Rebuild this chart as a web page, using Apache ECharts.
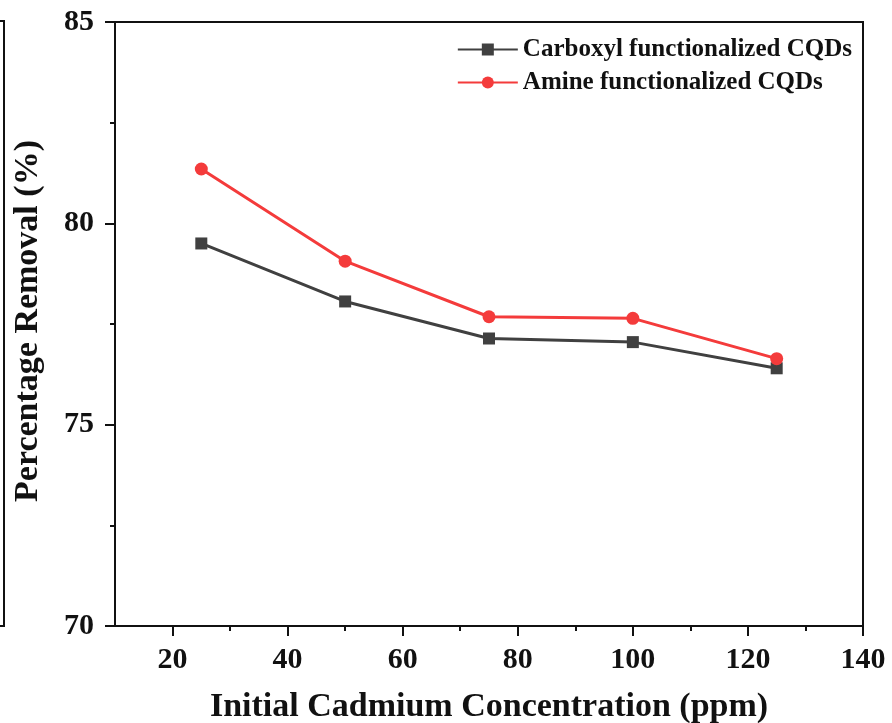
<!DOCTYPE html>
<html>
<head>
<meta charset="utf-8">
<script src="https://cdn.jsdelivr.net/npm/echarts@6/dist/echarts.min.js"></script>
<style>
  html, body { margin: 0; padding: 0; background: #fff; }
  #chart { width: 892px; height: 723px; }
</style>
</head>
<body>
<div id="chart"></div>
<script>
// concentrations (ppm)
var concentration = [25, 50, 75, 100, 125];
// removal (%)
var carboxyl = [79.5, 78.06, 77.14, 77.05, 76.4];
var amine = [81.35, 79.06, 77.68, 77.64, 76.64];
// x ticks: long ones with labels, short ones between
var xMajorTicks = [20, 40, 60, 80, 100, 120, 140];
var xMinorTicks = [30, 50, 70, 90, 110, 130];

var serif = '"Liberation Serif", "Times New Roman", serif';
var chart = echarts.init(document.getElementById('chart'));

function pairs(ys) {
    return concentration.map(function (x, i) { return [x, ys[i]]; });
}

chart.setOption({
    animation: false,
    grid: {
        left: 115, right: 29, top: 22, bottom: 97,
        outerBoundsMode: 'none',
        show: true, borderColor: '#111', borderWidth: 2, backgroundColor: 'transparent'
    },
    legend: {
        right: 35, top: 32,
        orient: 'vertical',
        itemWidth: 60, itemHeight: 15, itemGap: 8,
        textStyle: { fontFamily: serif, fontWeight: 'bold', fontSize: 25, color: '#111' },
        data: ['Carboxyl functionalized CQDs', 'Amine functionalized CQDs']
    },
    xAxis: [{
        type: 'value', min: 10, max: 140,
        name: 'Initial Cadmium Concentration (ppm)',
        nameLocation: 'middle', nameGap: 64,
        nameTextStyle: { fontFamily: serif, fontWeight: 'bold', fontSize: 34, color: '#111' },
        splitLine: { show: false },
        axisLine: { lineStyle: { color: '#111', width: 2 } },
        axisTick: { customValues: xMajorTicks, length: 10, lineStyle: { width: 2, color: '#111' } },
        axisLabel: { customValues: xMajorTicks, margin: 19, fontFamily: serif, fontWeight: 'bold', fontSize: 30, color: '#111' }
    }, {
        type: 'value', min: 10, max: 140, position: 'bottom',
        splitLine: { show: false },
        axisLine: { show: false },
        axisTick: { customValues: xMinorTicks, length: 5, lineStyle: { width: 2, color: '#111' } },
        axisLabel: { show: false }
    }],
    yAxis: {
        type: 'value', min: 70, max: 85, interval: 5,
        name: 'Percentage Removal (%)',
        nameLocation: 'middle', nameGap: 70,
        nameTextStyle: { fontFamily: serif, fontWeight: 'bold', fontSize: 34, color: '#111', padding: [0, 0, 0, 6] },
        splitLine: { show: false },
        axisLine: { lineStyle: { color: '#111', width: 2 } },
        axisTick: { length: 10, lineStyle: { width: 2, color: '#111' } },
        minorTick: { show: true, splitNumber: 2, length: 5, lineStyle: { width: 2, color: '#111' } },
        axisLabel: { margin: 21, fontFamily: serif, fontWeight: 'bold', fontSize: 30, color: '#111' }
    },
    series: [{
        name: 'Carboxyl functionalized CQDs',
        type: 'line',
        data: pairs(carboxyl),
        symbol: 'rect', symbolSize: 12,
        lineStyle: { color: '#404040', width: 3 },
        itemStyle: { color: '#404040' }
    }, {
        name: 'Amine functionalized CQDs',
        type: 'line',
        data: pairs(amine),
        symbol: 'circle', symbolSize: 13,
        lineStyle: { color: '#f43b3b', width: 3 },
        itemStyle: { color: '#f43b3b' }
    }],
    graphic: [{
        type: 'polyline',
        shape: { points: [[0, 21], [4, 21], [4, 626], [0, 626]] },
        style: { stroke: '#111', lineWidth: 2, fill: null }
    }]
});
</script>
</body>
</html>
